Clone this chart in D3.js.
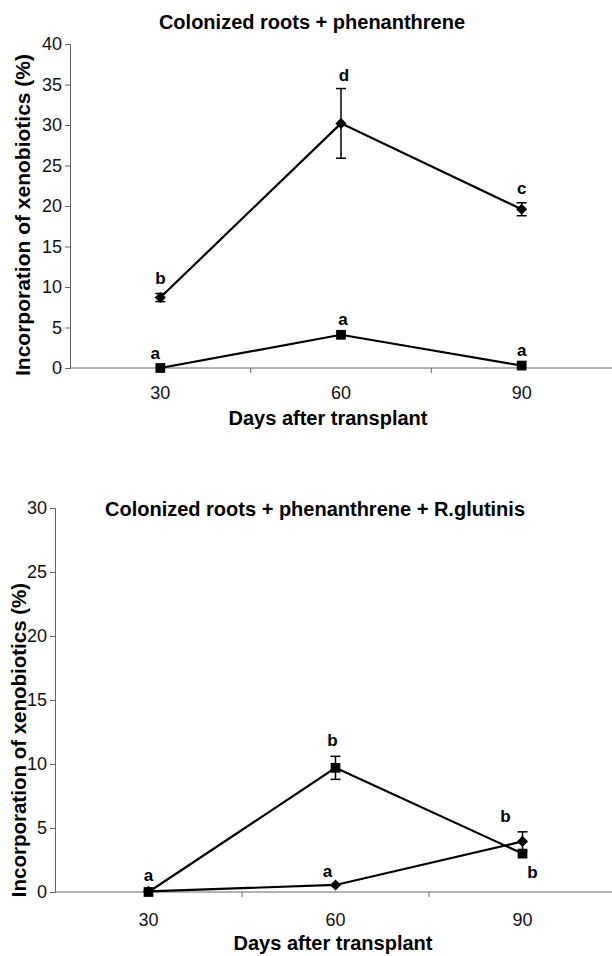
<!DOCTYPE html>
<html><head><meta charset="utf-8">
<script src="https://cdn.jsdelivr.net/npm/d3@7"></script>
<style>body{margin:0;background:#fff}svg{display:block}</style>
</head><body>
<svg id="c" width="612" height="956"></svg>
<script>
const days = ["30", "60", "90"];
// Top panel: Colonized roots + phenanthrene
const topDiamond = [8.7, 30.2, 19.6];
const topDiamondErr = [0.5, 4.3, 0.8];
const topDiamondLetters = ["b", "d", "c"];
const topSquare = [0.0, 4.1, 0.3];
const topSquareErr = [0, 0, 0];
const topSquareLetters = ["a", "a", "a"];
const topYTicks = [0, 5, 10, 15, 20, 25, 30, 35, 40];
// Bottom panel: + R.glutinis
const botSquare = [0.0, 9.7, 3.0];
const botSquareErr = [0, 0.9, 0];
const botSquareLetters = ["a", "b", "b"];
const botDiamond = [0.05, 0.55, 3.95];
const botDiamondErr = [0, 0, 0.75];
const botDiamondLetters = ["", "a", "b"];
const botYTicks = [0, 5, 10, 15, 20, 25, 30];

const svg = d3.select("#c");
const FONT = "'Liberation Sans', Arial, sans-serif";

function panel(cfg) {
  const g = svg.append("g");
  const x = d3.scaleBand().domain(days).range([cfg.x0, cfg.x1]).padding(0);
  const y = d3.scaleLinear().domain([0, cfg.ymax]).range([cfg.y0, cfg.y1]);

  // title
  g.append("text").attr("x", cfg.titleX).attr("y", cfg.titleY)
    .attr("text-anchor", "middle").attr("font-family", FONT)
    .attr("font-weight", "bold").attr("font-size", 20).text(cfg.title);

  // y axis
  const ya = g.append("g").attr("transform", `translate(${cfg.x0},0)`)
    .call(d3.axisLeft(y).tickValues(cfg.yTicks).tickSize(5).tickPadding(3));
  ya.select(".domain").attr("stroke", "#666");
  ya.selectAll(".tick line").attr("stroke", "#666");
  ya.selectAll("text").attr("font-family", FONT).attr("font-size", 18).attr("fill", "#111");

  // x axis (labels centred in categories, ticks between)
  const xa = g.append("g").attr("transform", `translate(0,${cfg.y0})`)
    .call(d3.axisBottom(x).tickSize(0).tickPadding(cfg.xLabelPad));
  xa.select(".domain").attr("stroke", "#666").attr("d", `M${cfg.x0},0H${cfg.x1}`);
  xa.selectAll("text").attr("font-family", FONT).attr("font-size", 18).attr("fill", "#111");
  const bounds = days.slice(1).map(d => x(d));
  g.selectAll(".xb").data(bounds).enter().append("line")
    .attr("x1", d => d).attr("x2", d => d)
    .attr("y1", cfg.y0).attr("y2", cfg.y0 + 5).attr("stroke", "#666");

  // axis titles
  g.append("text").attr("x", cfg.xTitleX).attr("y", cfg.xTitleY)
    .attr("text-anchor", "middle").attr("font-family", FONT)
    .attr("font-weight", "bold").attr("font-size", 20).text("Days after transplant");
  g.append("text").attr("transform", `translate(${cfg.yTitleX},${cfg.yTitleY}) rotate(-90)`)
    .attr("text-anchor", "middle").attr("font-family", FONT)
    .attr("font-weight", "bold").attr("font-size", cfg.yTitleSize).text("Incorporation of xenobiotics (%)");

  const cx = d => x(d) + x.bandwidth() / 2;
  const line = d3.line().x(d => cx(d.day)).y(d => y(d.v));

  cfg.series.forEach(s => {
    const pts = days.map((d, i) => ({day: d, v: s.values[i], e: s.err[i], l: s.letters[i], off: s.offsets[i]}));
    g.append("path").datum(pts).attr("d", line).attr("fill", "none")
      .attr("stroke", "#000").attr("stroke-width", 2.2);
    // error bars
    pts.filter(p => p.e > 0).forEach(p => {
      const X = cx(p.day);
      g.append("line").attr("x1", X).attr("x2", X).attr("y1", y(p.v + p.e)).attr("y2", y(p.v - p.e))
        .attr("stroke", "#000").attr("stroke-width", 1.5);
      [p.v + p.e, p.v - p.e].forEach(v => g.append("line")
        .attr("x1", X - 5).attr("x2", X + 5).attr("y1", y(v)).attr("y2", y(v))
        .attr("stroke", "#000").attr("stroke-width", 1.5));
    });
    // markers
    const isSq = s.shape === "square";
    const sym = d3.symbol().type(d3.symbolSquare).size(isSq ? 95 : 62);
    g.selectAll(null).data(pts).enter().append("path")
      .attr("d", sym)
      .attr("transform", p => `translate(${cx(p.day)},${y(p.v)})` + (isSq ? "" : " rotate(45)"))
      .attr("fill", "#000");
    // letters
    g.selectAll(null).data(pts.filter(p => p.l)).enter().append("text")
      .attr("x", p => cx(p.day) + p.off[0])
      .attr("y", p => y(p.v + p.e) + p.off[1])
      .attr("text-anchor", "middle").attr("font-family", FONT)
      .attr("font-weight", "bold").attr("font-size", 17).text(p => p.l);
  });
}

panel({
  title: "Colonized roots + phenanthrene", titleX: 312, titleY: 29,
  x0: 70, x1: 612, y0: 368, y1: 44, ymax: 40, yTicks: topYTicks,
  xLabelPad: 18, xTitleX: 328, xTitleY: 425, yTitleX: 30, yTitleY: 215, yTitleSize: 21,
  series: [
    {shape: "diamond", values: topDiamond, err: topDiamondErr, letters: topDiamondLetters,
     offsets: [[0, -9], [3, -8], [0, -9]]},
    {shape: "square", values: topSquare, err: topSquareErr, letters: topSquareLetters,
     offsets: [[-5, -9], [2, -10], [0, -10]]}
  ]
});

panel({
  title: "Colonized roots + phenanthrene + R.glutinis", titleX: 315, titleY: 516,
  x0: 55, x1: 616, y0: 892, y1: 508, ymax: 30, yTicks: botYTicks,
  xLabelPad: 21, xTitleX: 333, xTitleY: 950, yTitleX: 26, yTitleY: 740, yTitleSize: 20.5,
  series: [
    {shape: "square", values: botSquare, err: botSquareErr, letters: botSquareLetters,
     offsets: [[0, -11], [-3, -10], [10, 24]]},
    {shape: "diamond", values: botDiamond, err: botDiamondErr, letters: botDiamondLetters,
     offsets: [[0, 0], [-8, -8], [-17, -10]]}
  ]
});
</script>
</body></html>
